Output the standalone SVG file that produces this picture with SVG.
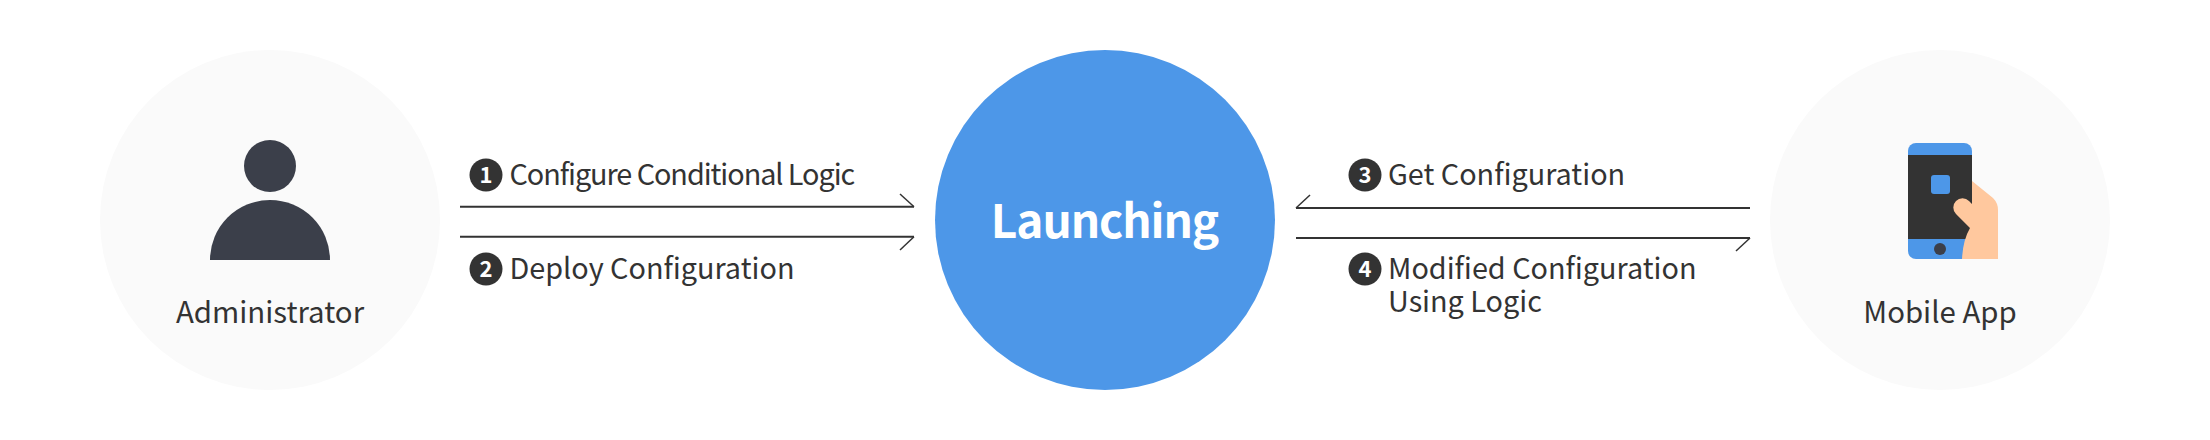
<svg xmlns="http://www.w3.org/2000/svg" width="2210" height="440" viewBox="0 0 2210 440">
<style>
text{font-family:"Noto Sans CJK KR","Noto Sans",sans-serif;fill:#333}
.l{font-size:28.8px}
.n{font-size:29.4px;text-anchor:middle}
.b{font-size:22px;font-weight:700;fill:#fff;text-anchor:middle}
.c{stroke:#333;stroke-width:2;fill:none}
.h{stroke:#333;stroke-width:1.5;fill:none}
</style>
<rect width="2210" height="440" fill="#fff"/>
<g id="connectors">
<path class="c" d="M460 206.7H914"/><path class="h" d="M900 194L914 206.7"/>
<path class="c" d="M460 236.7H914"/><path class="h" d="M900 250L914 236.7"/>
<path class="c" d="M1750 208H1296"/><path class="h" d="M1310 195L1296 208"/>
<path class="c" d="M1296 238H1750"/><path class="h" d="M1736 251L1750 238"/>
</g>
<g id="administrator">
<circle cx="270" cy="220" r="170" fill="#fafafa"/>
<circle cx="270" cy="166" r="26" fill="#3b3f4a"/>
<path d="M210 260a60 60 0 0 1 120 0z" fill="#3b3f4a"/>
<text class="n" x="270" y="323">Administrator</text>
</g>
<g id="launching">
<circle cx="1105" cy="220" r="170" fill="#4d97e8"/>
<text x="1104.5" y="238" font-size="46" font-weight="700" letter-spacing="-1.1" text-anchor="middle" style="fill:#fff">Launching</text>
</g>
<g id="mobile-app">
<circle cx="1940" cy="220" r="170" fill="#fafafa"/>
<rect x="1908" y="143" width="64" height="116" rx="8" fill="#4d97e8"/>
<rect x="1908" y="155" width="64" height="84" fill="#333"/>
<rect x="1931" y="175" width="19" height="19" rx="3" fill="#4d97e8"/>
<circle cx="1940" cy="249" r="6" fill="#3b3f4a"/>
<path d="M1972 181L1993 198Q1998 203 1998 210V259H1962Q1963 240 1970 228L1956 214A9 9 0 0 1 1969 201L1972 204Z" fill="#ffc89e"/>
<text class="n" x="1940" y="323">Mobile App</text>
</g>
<g id="label-1">
<circle cx="486" cy="175" r="16.5" fill="#333"/><text class="b" x="486" y="183">1</text>
<text class="l" x="509.5" y="185" letter-spacing="-1.05">Configure Conditional Logic</text>
</g>
<g id="label-2">
<circle cx="486" cy="269" r="16.5" fill="#333"/><text class="b" x="486" y="277">2</text>
<text class="l" x="509.5" y="279">Deploy Configuration</text>
</g>
<g id="label-3">
<circle cx="1365" cy="175" r="16.5" fill="#333"/><text class="b" x="1365" y="183">3</text>
<text class="l" x="1388" y="185">Get Configuration</text>
</g>
<g id="label-4">
<circle cx="1365" cy="269" r="16.5" fill="#333"/><text class="b" x="1365" y="277">4</text>
<text class="l" x="1388" y="279">Modified Configuration</text>
<text class="l" x="1388" y="312">Using Logic</text>
</g>
</svg>
